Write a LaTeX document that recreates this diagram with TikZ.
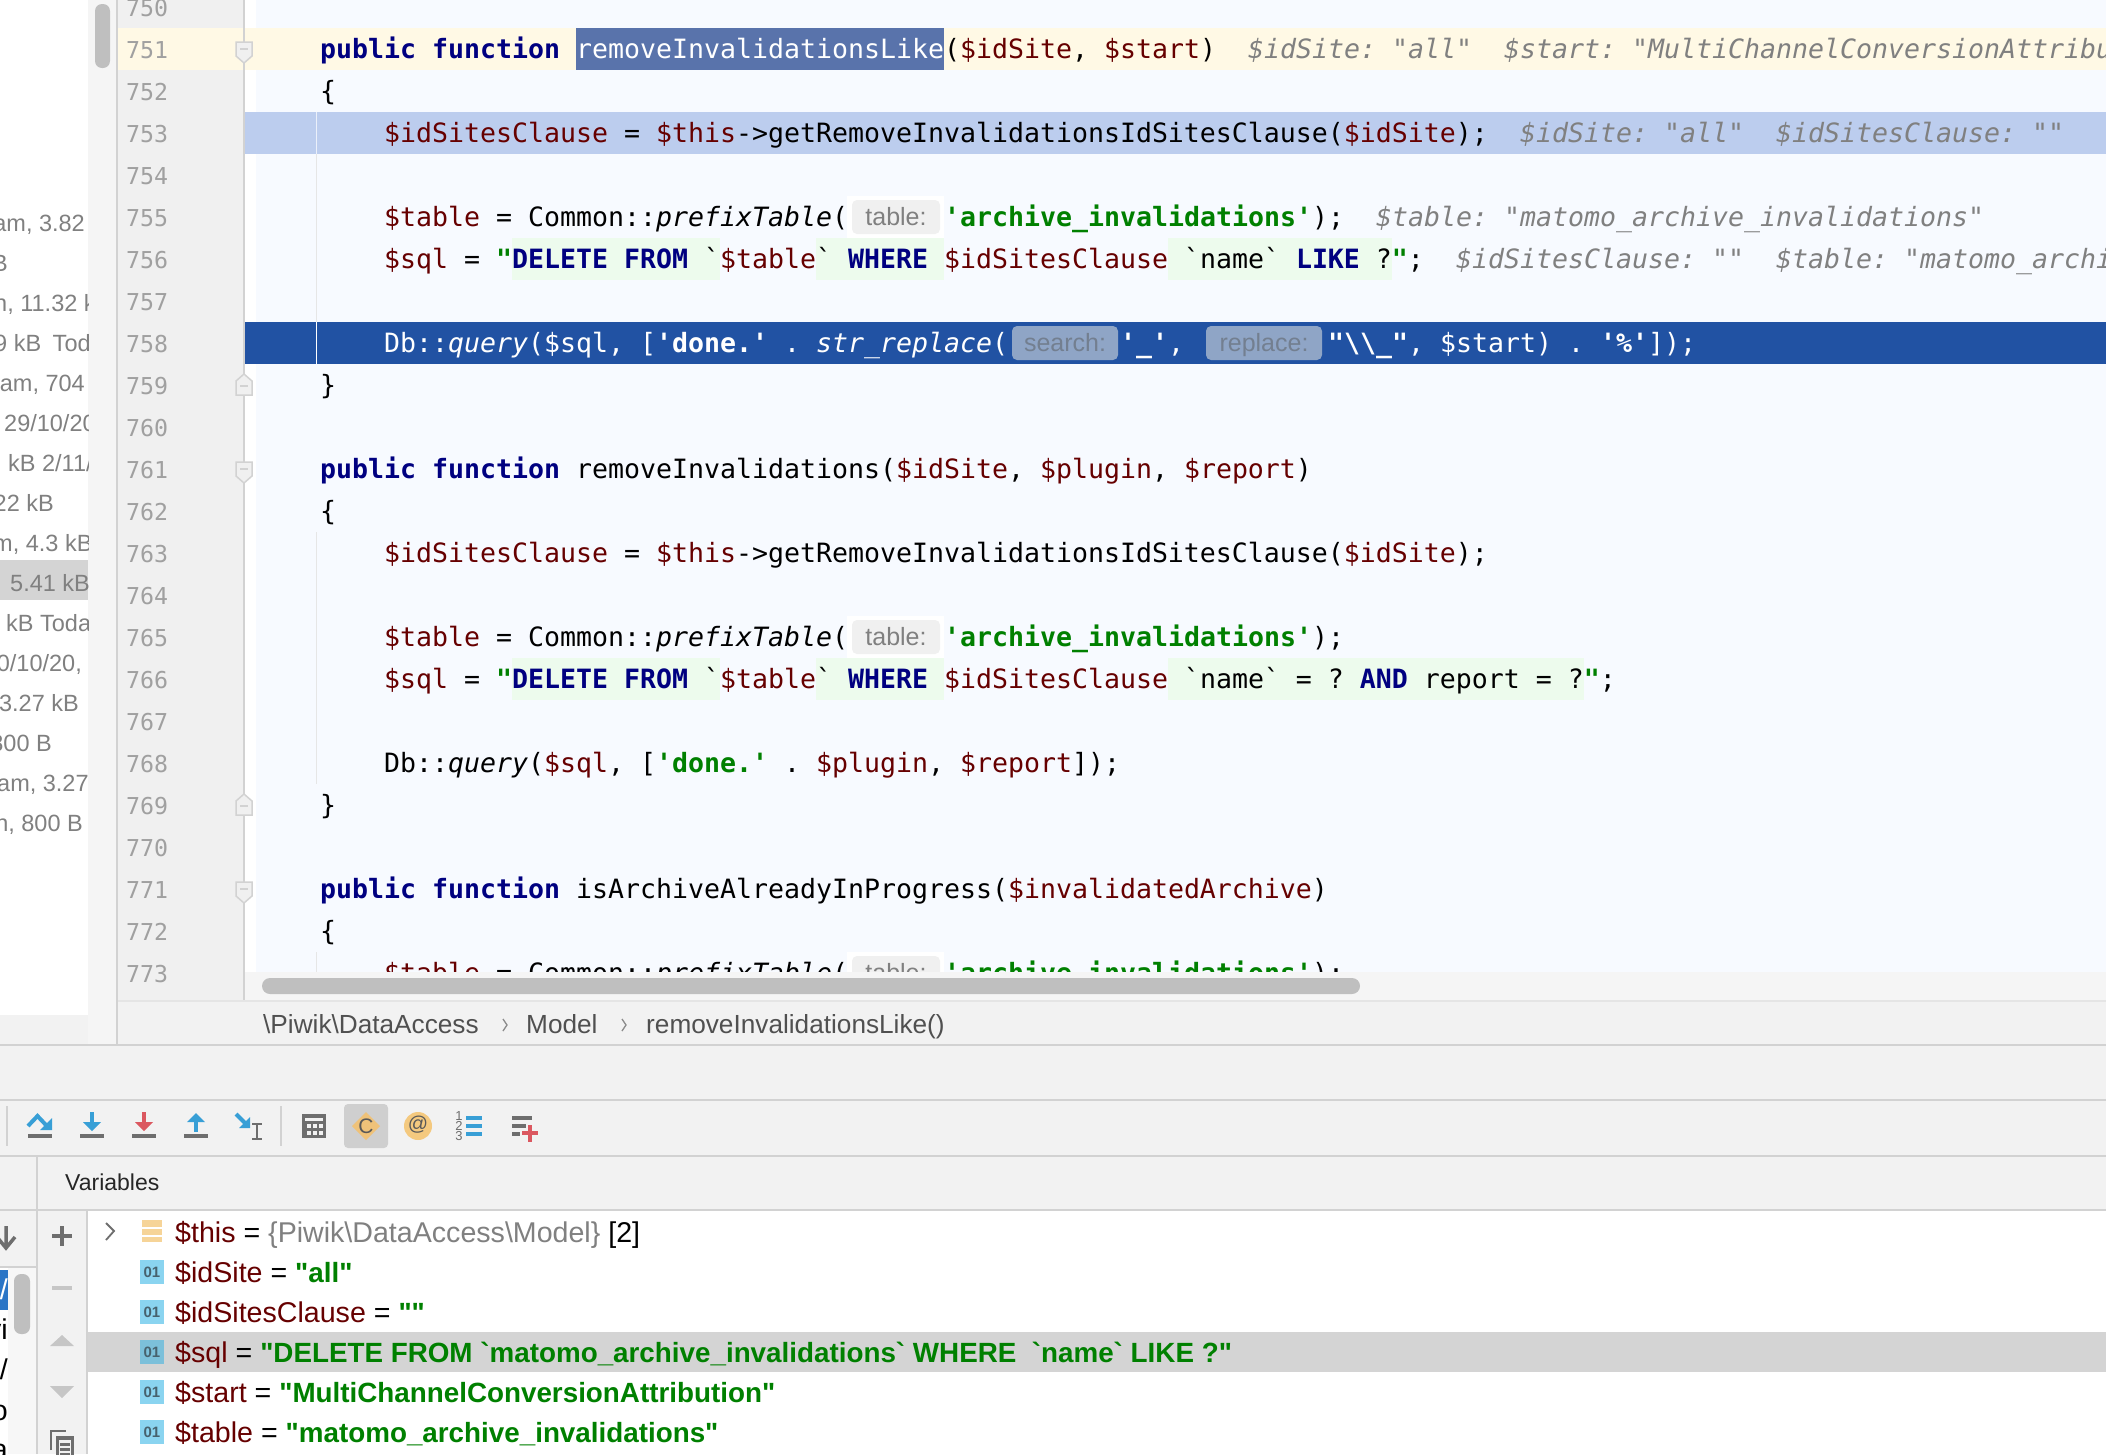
\documentclass[tikz,border=0pt]{standalone}
\usepackage{fontspec}
\newfontfamily\cfont{DejaVu Sans Mono}
\newfontfamily\sfnt{Liberation Sans}
\definecolor{kwc}{HTML}{000080}
\definecolor{varc}{HTML}{660000}
\definecolor{strc}{HTML}{008000}
\definecolor{hintc}{HTML}{808080}
\definecolor{edbg}{HTML}{F7FAFF}
\definecolor{guttc}{HTML}{F0F0F0}
\definecolor{linec}{HTML}{D2D2D2}
\definecolor{guidec}{HTML}{E6E6E6}
\definecolor{curl}{HTML}{FFF9E5}
\definecolor{sel}{HTML}{5973AB}
\definecolor{lb}{HTML}{BCCDEE}
\definecolor{db}{HTML}{2152A3}
\definecolor{sqlbg}{HTML}{EDFBED}
\definecolor{iconb}{HTML}{389FD6}
\definecolor{iconr}{HTML}{DB5860}
\definecolor{icong}{HTML}{6E6E6E}
\definecolor{icons}{HTML}{C6C6C6}
\definecolor{orng}{HTML}{F4C97F}
\definecolor{thumb}{HTML}{BFBFBF}
\definecolor{pillb}{HTML}{8FA5C6}
\definecolor{pillt}{HTML}{737F90}
\definecolor{iconlb}{HTML}{8AD4F0}
\definecolor{iconlc}{HTML}{7CC0DA}
\definecolor{frsel}{HTML}{2A75C6}
\newcommand\cK[1]{\textcolor{kwc}{\bfseries #1}}
\newcommand\cV[1]{\textcolor{varc}{#1}}
\newcommand\cS[1]{\textcolor{strc}{\bfseries #1}}
\newcommand\cSv[1]{\textcolor{strc}{\fontsize{27.8}{30}\selectfont\bfseries #1}}
\newcommand\cF[1]{\textit{#1}}
\newcommand\seg[3]{\pgfmathsetmacro\sx{320+16*#2}\pgfmathsetmacro\sy{58+42*(#1-751)}\node[code] at (\sx,\sy) {#3};}
\newcommand\hint[3]{\pgfmathsetmacro\sx{320+16*#2}\pgfmathsetmacro\sy{58+42*(#1-751)}\node[code,text=hintc,font=\cfont\fontsize{26.57}{30}\selectfont\itshape] at (\sx,\sy) {#3};}
\newcommand\lnum[1]{\pgfmathsetmacro\sy{58+42*(#1-751)}\node[numtext] at (126,\sy) {#1};}
\newcommand\lbg[3]{\pgfmathsetmacro\sy{28+42*(#1-751)}\fill[#3] (#2,\sy) rectangle (2106,\sy+42);}
\newcommand\colbg[4]{\pgfmathsetmacro\sy{28+42*(#1-751)}\fill[#4] ({320+16*#2},\sy) rectangle ({320+16*#3},\sy+42);}
\newcommand\tablepill[1]{\pgfmathsetmacro\sy{28+42*(#1-751)}\fill[white] (847,\sy) rectangle (944,\sy+42);
 \fill[pilla,rounded corners=5] (852,\sy+4) rectangle (940,\sy+38);
 \node[pilltext,text=hintc] at (896,\sy+29) {table:};}
\newcommand\guide[2]{\draw[guidec,line width=1.5] (316.5,{28+42*(#1-751)}) -- (316.5,{min(972,28+42*(#2-750))});}
\newcommand\foldd[1]{\pgfmathsetmacro\sy{49+42*(#1-751)}\draw[linec,fill=guttc,line width=1.5] (236,\sy-7) -- (252,\sy-7) -- (252,\sy+7) -- (244,\sy+14) -- (236,\sy+7) -- cycle;\draw[linec,line width=1.5] (240,\sy) -- (248,\sy);}
\newcommand\foldu[1]{\pgfmathsetmacro\sy{49+42*(#1-751)}\draw[linec,fill=guttc,line width=1.5] (236,\sy+10) -- (252,\sy+10) -- (252,\sy-4) -- (244,\sy-11) -- (236,\sy-4) -- cycle;\draw[linec,line width=1.5] (240,\sy+1) -- (248,\sy+1);}
\newcommand\varrow[3]{\node[vartext] at (175,#1+10.5) {\cV{#2} = #3};}
\newcommand\oneicon[2]{\fill[#2] (140,#1-12) rectangle (164,#1+12);\node[font=\sfnt\bfseries\fontsize{15}{15}\selectfont,text=icontxt,inner sep=0] at (152,#1) {01};}
\tikzset{
 x=1pt,y=-1pt,
 code/.style={anchor=base west,inner sep=0,font=\cfont\fontsize{26.57}{30}\selectfont},
 numtext/.style={anchor=base west,inner sep=0,text=numc,font=\cfont\fontsize{23.25}{26}\selectfont},
 pilltext/.style={anchor=base,inner sep=0,font=\sfnt\fontsize{25}{28}\selectfont},
 filetext/.style={inner sep=0,text=filec,font=\sfnt\fontsize{23.5}{26}\selectfont},
 crumb/.style={anchor=base west,inner sep=0,text=crumbc,font=\sfnt\fontsize{26.2}{28}\selectfont},
 vartext/.style={anchor=base west,inner sep=0,font=\sfnt\fontsize{28.6}{30}\selectfont},
 bar/.style={line width=2,linec},
}
\colorlet{pilla}{black!6}
\definecolor{numc}{HTML}{A0A0A0}
\definecolor{filec}{HTML}{808080}
\definecolor{crumbc}{HTML}{505050}
\definecolor{icontxt}{HTML}{47626E}
\begin{document}
\frenchspacing
\begin{tikzpicture}
\useasboundingbox (0,0) rectangle (2106,1454);
\clip (0,0) rectangle (2106,1454);
% base
\fill[black!5] (0,0) rectangle (2106,1454);
% left file list
\fill[white] (0,0) rectangle (88,1015);
\fill[black!4] (88,0) rectangle (117,1044);
\fill[black!17] (0,560) rectangle (88,600);
\begin{scope}
\clip (0,0) rectangle (88,1015);
\node[filetext,anchor=base east] at (85,231) {am, 3.82};
\node[filetext,anchor=base east] at (8,271) {B};
\node[filetext,anchor=base west] at (-6,311) {n, 11.32 kB};
\node[filetext,anchor=base west] at (-6,351) {9 kB\hspace{5pt} Today};
\node[filetext,anchor=base east] at (85,391) {am, 704};
\node[filetext,anchor=base west] at (4,431) {29/10/20};
\node[filetext,anchor=base west] at (8,471) {kB 2/11/20};
\node[filetext,anchor=base east] at (54,511) {22 kB};
\node[filetext,anchor=base west] at (-7,551) {m, 4.3 kB};
\node[filetext,anchor=base west] at (10,591) {5.41 kB};
\node[filetext,anchor=base west] at (6,631) {kB Today};
\node[filetext,anchor=base east] at (82,671) {0/10/20,};
\node[filetext,anchor=base east] at (79,711) {3.27 kB};
\node[filetext,anchor=base east] at (52,751) {800 B};
\node[filetext,anchor=base west] at (-3,791) {am, 3.27};
\node[filetext,anchor=base east] at (83,831) {n, 800 B};
\end{scope}
\fill[thumb,rounded corners=7] (95,4) rectangle (110,68);
% editor background
\fill[white] (245,0) rectangle (256,1000);
\fill[edbg] (256,0) rectangle (2106,1000);
\lbg{751}{118}{curl}
\lbg{753}{245}{lb}
\lbg{758}{245}{db}
% injected sql backgrounds
\colbg{756}{12}{25}{sqlbg}\colbg{756}{31}{39}{sqlbg}\colbg{756}{53}{67}{sqlbg}
\colbg{766}{12}{25}{sqlbg}\colbg{766}{31}{39}{sqlbg}\colbg{766}{53}{79}{sqlbg}
\colbg{751}{16}{39}{sel}
% indent guides
\draw[white!70!lb,line width=1.5] (316.5,154) -- (316.5,112);
\guide{754}{757}
\draw[white,line width=1.5] (316.5,322) -- (316.5,364);
\guide{763}{768}
\guide{773}{773}
% code
\seg{751}{0}{\cK{public function}}
\seg{751}{16}{\textcolor{white}{removeInvalidationsLike}}
\seg{751}{39}{(\cV{\$idSite}, \cV{\$start})}
\hint{751}{58}{\$idSite: "all"}
\hint{751}{74}{\$start: "MultiChannelConversionAttribution"}
\seg{752}{0}{\{}
\seg{753}{4}{\cV{\$idSitesClause} = \cV{\$this}->getRemoveInvalidationsIdSitesClause(\cV{\$idSite});}
\hint{753}{75}{\$idSite: "all"}
\hint{753}{91}{\$idSitesClause: ""}
\seg{755}{4}{\cV{\$table} = Common::\cF{prefixTable}(}
\tablepill{755}
\seg{755}{39}{\cS{'archive\_invalidations'});}
\hint{755}{66}{\$table: "matomo\_archive\_invalidations"}
\seg{756}{4}{\cV{\$sql} = \cS{"}\cK{DELETE FROM} `\cV{\$table}` \cK{WHERE} \cV{\$idSitesClause} `name` \cK{LIKE} ?\cS{"};}
\hint{756}{71}{\$idSitesClause: ""}
\hint{756}{91}{\$table: "matomo\_archive\_invalidations"}
\seg{758}{4}{\textcolor{white}{Db::\cF{query}(\$sql, [\textbf{'done.'} . \cF{str\_replace}(}}
\fill[pillb,rounded corners=5] (1012,326) rectangle (1118,360);
\node[pilltext,text=pillt] at (1065,351) {search:};
\seg{758}{50}{\textcolor{white}{\textbf{'\_'},}}
\fill[pillb,rounded corners=5] (1206,326) rectangle (1322,360);
\node[pilltext,text=pillt] at (1264,351) {replace:};
\seg{758}{63}{\textcolor{white}{\textbf{"\textbackslash\textbackslash\_"}, \$start) . \textbf{'\%'}]);}}
\seg{759}{0}{\}}
\seg{761}{0}{\cK{public function} removeInvalidations(\cV{\$idSite}, \cV{\$plugin}, \cV{\$report})}
\seg{762}{0}{\{}
\seg{763}{4}{\cV{\$idSitesClause} = \cV{\$this}->getRemoveInvalidationsIdSitesClause(\cV{\$idSite});}
\seg{765}{4}{\cV{\$table} = Common::\cF{prefixTable}(}
\tablepill{765}
\seg{765}{39}{\cS{'archive\_invalidations'});}
\seg{766}{4}{\cV{\$sql} = \cS{"}\cK{DELETE FROM} `\cV{\$table}` \cK{WHERE} \cV{\$idSitesClause} `name` = ? \cK{AND} report = ?\cS{"};}
\seg{768}{4}{Db::\cF{query}(\cV{\$sql}, [\cS{'done.'} . \cV{\$plugin}, \cV{\$report}]);}
\seg{769}{0}{\}}
\seg{771}{0}{\cK{public function} isArchiveAlreadyInProgress(\cV{\$invalidatedArchive})}
\seg{772}{0}{\{}
\seg{773}{4}{\cV{\$table} = Common::\cF{prefixTable}(}
\tablepill{773}
\seg{773}{39}{\cS{'archive\_invalidations'});}
% horizontal scroll strip
\fill[black!4] (245,972) rectangle (2106,1000);
\fill[thumb,rounded corners=8] (262,978) rectangle (1360,994);
% gutter
\fill[guttc] (118,0) rectangle (243,28);
\fill[guttc] (118,70) rectangle (243,1000);
\draw[bar] (244,0) -- (244,1000);
\draw[bar] (117,0) -- (117,1045);
\foreach \n in {750,...,773}{\lnum{\n}}
\foldd{751}\foldu{759}\foldd{761}\foldu{769}\foldd{771}
% breadcrumb
\draw[black!10,line width=2] (118,1001) -- (2106,1001);
\draw[bar] (0,1045) -- (2106,1045);
\node[crumb] at (263,1033) {\textbackslash Piwik\textbackslash DataAccess};
\draw[black!45,line width=1.3] (503,1019) -- (507,1025) -- (503,1031);
\node[crumb] at (526,1033) {Model};
\draw[black!45,line width=1.3] (622,1019) -- (626,1025) -- (622,1031);
\node[crumb] at (646,1033) {removeInvalidationsLike()};
% toolbar
\draw[bar] (0,1100) -- (2106,1100);
\draw[bar] (0,1156) -- (2106,1156);
\draw[bar] (7,1106) -- (7,1146);
\draw[bar] (281,1106) -- (281,1146);
% step over
\fill[icong] (28,1134) rectangle (52,1138);
\draw[iconb,line width=4] (28,1126) -- (37.5,1116) -- (46,1125);
\fill[iconb] (52,1118) -- (52,1130) -- (40,1130) -- cycle;
% step into
\fill[icong] (80,1134) rectangle (104,1138);
\fill[iconb] (90,1112) rectangle (94,1124);
\fill[iconb] (83,1122) -- (101,1122) -- (92,1131) -- cycle;
% force step into
\fill[icong] (132,1134) rectangle (156,1138);
\fill[iconr] (142,1112) rectangle (146,1124);
\fill[iconr] (135,1122) -- (153,1122) -- (144,1131) -- cycle;
% step out
\fill[icong] (184,1134) rectangle (208,1138);
\fill[iconb] (194,1120) rectangle (198,1132);
\fill[iconb] (187,1122) -- (205,1122) -- (196,1113) -- cycle;
% run to cursor
\draw[iconb,line width=4] (236,1114) -- (246,1124);
\fill[iconb] (250,1117) -- (250,1128) -- (239,1128) -- cycle;
\draw[icong,line width=1.6] (252,1124) -- (262,1124) (257,1124) -- (257,1139) (252,1139) -- (262,1139);
% calculator
\fill[icong] (302,1114) rectangle (326,1138);
\fill[black!5] (305,1118) rectangle (323,1121);
\foreach \ax in {307,313,319}{\foreach \ay in {1124,1131}{\fill[black!5] (\ax,\ay) rectangle (\ax+4,\ay+4);}}
% constants (selected)
\fill[black!19,rounded corners=4] (344,1104) rectangle (388,1148);
\fill[orng!90!brown] (366,1112) -- (380,1126) -- (366,1140) -- (352,1126) -- cycle;
\node[inner sep=0,text=black!65,font=\sfnt\fontsize{21}{21}\selectfont] at (366,1126) {C};
% at sign
\fill[orng] (418,1126) circle (14);
\node[inner sep=0,text=black!65,font=\sfnt\fontsize{20}{20}\selectfont] at (418,1125) {@};
% numbered list
\foreach \dg/\ay in {1/1116,2/1126,3/1136}{\node[inner sep=0,text=icong,font=\sfnt\fontsize{13}{13}\selectfont] at (459,\ay) {\dg};}
\foreach \ay in {1116,1124,1132}{\fill[iconb] (466,\ay) rectangle (482,\ay+4);}
% add watch list
\fill[icong] (512,1116) rectangle (532,1120);
\fill[icong] (512,1124) rectangle (526,1128);
\fill[icong] (512,1132) rectangle (520,1136);
\fill[iconr] (522,1131) rectangle (538,1135);
\fill[iconr] (528,1125) rectangle (532,1142);
% variables header
\draw[bar] (0,1210) -- (2106,1210);
\draw[bar] (37,1156) -- (37,1454);
\draw[bar] (87,1210) -- (87,1454);
\node[anchor=base west,inner sep=0,font=\sfnt\fontsize{23}{26}\selectfont,text=black!85] at (65,1190.5) {Variables};
% frames strip
\fill[black!3] (0,1268) rectangle (36,1454);
\fill[white] (0,1268) rectangle (8,1454);
\fill[black!5] (0,1211) rectangle (36,1266);
\draw[bar] (0,1267) -- (37,1267);
\draw[icong,line width=3.5] (6,1226) -- (6,1248) (-3,1237) -- (6,1248) -- (15,1237);
\fill[frsel] (0,1270) rectangle (8,1310);
\begin{scope}
\clip (0,1268) rectangle (8,1454);
\node[vartext,anchor=base east,text=white] at (8,1299) {y/};
\node[vartext,anchor=base east] at (8,1339) {vi};
\node[vartext,anchor=base east] at (8,1379) {v/};
\node[vartext,anchor=base east] at (8,1420) {o};
\node[vartext,anchor=base east] at (8,1459) {a};
\end{scope}
\fill[thumb,rounded corners=7] (14,1274) rectangle (30,1334);
% variables side buttons
\fill[icong] (52,1234) rectangle (72,1238);
\fill[icong] (60,1226) rectangle (64,1246);
\fill[icons] (52,1286) rectangle (72,1290);
\fill[icons] (50,1346) -- (74,1346) -- (62,1335) -- cycle;
\fill[icons] (50,1386) -- (74,1386) -- (62,1398) -- cycle;
\draw[icong,line width=2.5] (51,1450) -- (51,1431) -- (66,1431);
\fill[icong] (56,1436) rectangle (74,1460);
\fill[black!5] (59,1440) rectangle (71,1460);
\foreach \ay in {1443,1448,1453}{\fill[icong] (60,\ay) rectangle (70,\ay+2.5);}
% variables list
\fill[white] (88,1211) rectangle (2106,1454);
\fill[black!17] (88,1332) rectangle (2106,1372);
\draw[icong,line width=1.8] (106,1223) -- (114,1231) -- (106,1240);
\fill[orng!80!white] (142,1220) rectangle (162,1227);
\fill[orng!80!white] (142,1229) rectangle (162,1235);
\fill[orng!80!white] (142,1237) rectangle (162,1242);
\oneicon{1272}{iconlb}\oneicon{1312}{iconlb}\oneicon{1352}{iconlc}\oneicon{1392}{iconlb}\oneicon{1432}{iconlb}
\varrow{1232}{\$this}{\textcolor{hintc}{\{Piwik\textbackslash DataAccess\textbackslash Model\}} [2]}
\varrow{1272}{\$idSite}{\cSv{"all"}}
\varrow{1312}{\$idSitesClause}{\cSv{""}}
\varrow{1352}{\$sql}{\cSv{"DELETE FROM `matomo\_archive\_invalidations` WHERE\ \ `name` LIKE ?"}}
\varrow{1392}{\$start}{\cSv{"MultiChannelConversionAttribution"}}
\varrow{1432}{\$table}{\cSv{"matomo\_archive\_invalidations"}}
\end{tikzpicture}
\end{document}
